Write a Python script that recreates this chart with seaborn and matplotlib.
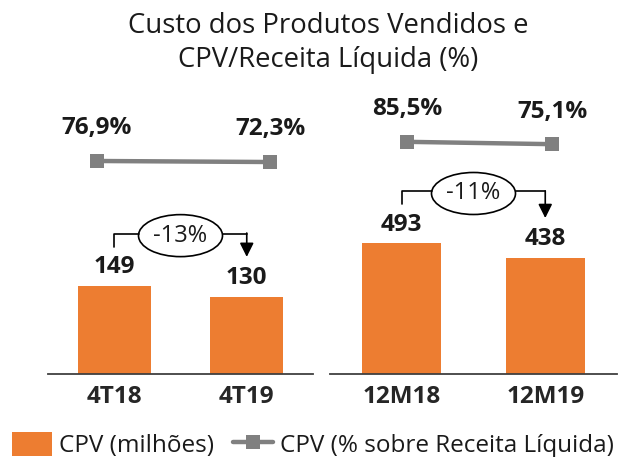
import numpy as np
import pandas as pd
import matplotlib
matplotlib.use('Agg')
import matplotlib.pyplot as plt
from matplotlib.transforms import IdentityTransform
from matplotlib.patches import Ellipse, Patch, FancyArrowPatch
from matplotlib.lines import Line2D
import seaborn as sns

# --- data ---
periods_quarter = ['4T18', '4T19']
periods_year = ['12M18', '12M19']
cpv_quarter = [149, 130]          # CPV (milhões)
cpv_year = [493, 438]
cpv_pct_quarter = [76.9, 72.3]    # CPV (% sobre Receita Líquida)
cpv_pct_year = [85.5, 75.1]
var_quarter = '-13%'
var_year = '-11%'

ORANGE = '#ED7D31'
GRAY = '#808080'
W, H, DPI = 627, 457, 100
FS = 17.5

sns.set_theme(style='white')
plt.rcParams['font.family'] = ['Open Sans', 'DejaVu Sans']
plt.rcParams['text.color'] = '#1a1a1a'

fig = plt.figure(figsize=(W / DPI, H / DPI), dpi=DPI)


def px_rect(x0, x1, ytop, ybot):
    """figure-fraction rect from pixel box (y measured from top)"""
    return [x0 / W, 1 - ybot / H, (x1 - x0) / W, (ybot - ytop) / H]


def fmt_pct(v):
    return f'{v:.1f}'.replace('.', ',') + '%'


def draw_panel(cats, vals, pcts, var_txt, bar_x, ymax, line_x, line_cy):
    # bars
    ax = fig.add_axes(px_rect(bar_x[0], bar_x[1], 100, 374))
    df = pd.DataFrame({'periodo': cats, 'cpv': vals})
    sns.barplot(data=df, x='periodo', y='cpv', color=ORANGE, saturation=1,
                width=0.55, linewidth=0, ax=ax)
    ax.set_xlim(-0.5, 1.5)
    ax.set_ylim(0, ymax)
    ax.set_xlabel('')
    ax.set_ylabel('')
    ax.set_yticks([])
    ax.tick_params(axis='x', length=0, pad=8, labelsize=FS)
    for t in ax.get_xticklabels():
        t.set_fontweight('bold')
    sns.despine(ax=ax, left=True)
    ax.spines['bottom'].set_color('#404040')
    ax.spines['bottom'].set_linewidth(1.3)
    ax.patch.set_alpha(0)

    for i, v in enumerate(vals):
        ax.annotate(str(v), (i, v), xytext=(0, 13.5), textcoords='offset points',
                    ha='center', va='center', fontsize=FS, fontweight='bold')

    # variation bracket with ellipse
    x0, y0 = ax.transData.transform((0, vals[0]))
    x1, y1 = ax.transData.transform((1, vals[1]))
    start, level, tip = y0 + 39, y0 + 52, y1 + 40
    xm, ew, eh = (x0 + x1) / 2, 84, 42
    ident = IdentityTransform()
    fig.add_artist(Line2D([x0, x0, xm - ew / 2], [start, level, level],
                          transform=ident, color='black', lw=1.2))
    fig.add_artist(Line2D([xm + ew / 2, x1], [level, level],
                          transform=ident, color='black', lw=1.2))
    fig.add_artist(FancyArrowPatch((x1, level + 0.6), (x1, tip), transform=ident,
                                   arrowstyle='-|>,head_length=0.7,head_width=0.35',
                                   mutation_scale=12, shrinkA=0, shrinkB=0,
                                   color='black', lw=1.2))
    fig.add_artist(Ellipse((xm, level - 2), ew, eh, transform=ident,
                           facecolor='white', edgecolor='black', lw=1.2))
    fig.text(xm, level - 2, var_txt, transform=ident, ha='center', va='center',
             fontsize=FS - 0.5)

    # percentage line
    lax = fig.add_axes(px_rect(line_x[0], line_x[1], line_cy - 22.5, line_cy + 22.5))
    dfl = pd.DataFrame({'periodo': cats, 'pct': pcts})
    sns.lineplot(data=dfl, x='periodo', y='pct', color=GRAY, lw=3.2, marker='s',
                 markersize=9.5, markeredgewidth=0, clip_on=False, ax=lax)
    lax.set_xlim(0, 1)
    m = np.mean(pcts)
    lax.set_ylim(m - 100, m + 100)
    lax.set_axis_off()
    for i, p in enumerate(pcts):
        lax.annotate(fmt_pct(p), (i, p), xytext=(0, 23.5), textcoords='offset points',
                     ha='center', va='center', fontsize=FS, fontweight='bold')


draw_panel(periods_quarter, cpv_quarter, cpv_pct_quarter, var_quarter,
           bar_x=(48, 313), ymax=462, line_x=(97, 270), line_cy=161.5)
draw_panel(periods_year, cpv_year, cpv_pct_year, var_year,
           bar_x=(330, 617), ymax=1035, line_x=(407, 552), line_cy=143)

fig.text(328 / W, 1 - 43 / H, 'Custo dos Produtos Vendidos e\nCPV/Receita Líquida (%)',
         ha='center', va='center', fontsize=19.8, linespacing=1.3)

handles = [Patch(facecolor=ORANGE, edgecolor='none'),
           Line2D([], [], color=GRAY, lw=3.2, marker='s', markersize=9.5, markeredgewidth=0)]
fig.legend(handles, ['CPV (milhões)', 'CPV (% sobre Receita Líquida)'],
           loc='center left', bbox_to_anchor=(12 / W, 1 - 445 / H), ncol=2,
           frameon=False, fontsize=FS, handlelength=1.65, handleheight=1.15,
           handletextpad=0.3, columnspacing=0.75, borderpad=0, borderaxespad=0)

fig.savefig('out.png', dpi=DPI)
